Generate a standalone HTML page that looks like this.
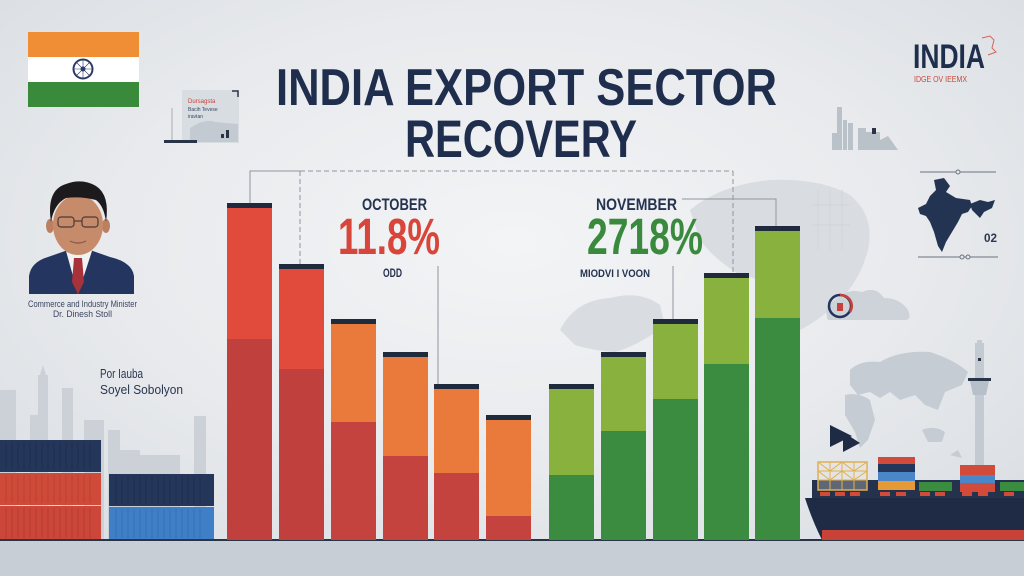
<!DOCTYPE html>
<html>
<head>
<meta charset="utf-8">
<style>
html,body{margin:0;padding:0;width:1024px;height:576px;overflow:hidden;background:#e4e7ea;}
svg{display:block;}
text{font-family:"Liberation Sans",Arial,sans-serif;}
</style>
</head>
<body>
<svg width="1024" height="576" viewBox="0 0 1024 576" xmlns="http://www.w3.org/2000/svg">
<defs>
<radialGradient id="bg" cx="0.5" cy="0.42" r="0.65">
<stop offset="0" stop-color="#f3f4f6"/>
<stop offset="0.6" stop-color="#e8eaed"/>
<stop offset="1" stop-color="#dce0e4"/>
</radialGradient>
</defs>
<rect width="1024" height="576" fill="url(#bg)"/>

<!-- faint world map behind green bars -->
<g fill="#d9dde1">
<path d="M560,330 Q575,300 610,298 Q640,290 660,305 L665,325 Q640,345 615,352 Q590,350 575,345 Z"/>
<path d="M690,210 Q720,185 770,180 Q820,178 850,195 Q875,215 868,250 Q860,280 840,300 Q820,320 800,330 L790,300 Q770,280 740,275 Q715,260 700,240 Z"/>
</g>
<g fill="none" stroke="#d0d5da" stroke-width="1">
<path d="M818,190 V250 M830,190 V250 M842,190 V250 M812,205 H850 M812,225 H850"/>
</g>

<!-- left skyline -->
<g fill="#cbd1d7">
<rect x="0" y="390" width="16" height="150"/>
<rect x="30" y="415" width="14" height="125"/>
<rect x="38" y="375" width="10" height="165"/>
<polygon points="43,365 46,375 40,375"/>
<rect x="62" y="388" width="11" height="152"/>
<rect x="84" y="420" width="20" height="120"/>
<rect x="108" y="430" width="12" height="110"/>
<rect x="120" y="450" width="20" height="90"/>
<rect x="140" y="455" width="25" height="85"/>
<rect x="165" y="455" width="15" height="85"/>
<rect x="194" y="416" width="12" height="124"/>
</g>

<!-- containers left -->
<g>
<rect x="0" y="440" width="101" height="32" fill="#24365a"/>
<rect x="0" y="473" width="101" height="32" fill="#d04a3a"/>
<rect x="0" y="506" width="101" height="34" fill="#cc4739"/>
<rect x="109" y="474" width="105" height="32" fill="#24365a"/>
<rect x="109" y="507" width="105" height="33" fill="#3f7fc8"/>
<g stroke="#000" stroke-opacity="0.12" stroke-width="1">
<path d="M6,442V470 M12,442V470 M18,442V470 M24,442V470 M30,442V470 M36,442V470 M42,442V470 M48,442V470 M54,442V470 M60,442V470 M66,442V470 M72,442V470 M78,442V470 M84,442V470 M90,442V470"/>
<path d="M6,475V503 M12,475V503 M18,475V503 M24,475V503 M30,475V503 M36,475V503 M42,475V503 M48,475V503 M54,475V503 M60,475V503 M66,475V503 M72,475V503 M78,475V503 M84,475V503 M90,475V503"/>
<path d="M6,508V538 M12,508V538 M18,508V538 M24,508V538 M30,508V538 M36,508V538 M42,508V538 M48,508V538 M54,508V538 M60,508V538 M66,508V538 M72,508V538 M78,508V538 M84,508V538 M90,508V538"/>
<path d="M116,476V504 M122,476V504 M128,476V504 M134,476V504 M140,476V504 M146,476V504 M152,476V504 M158,476V504 M164,476V504 M170,476V504 M176,476V504 M182,476V504 M188,476V504 M194,476V504 M200,476V504"/>
<path d="M116,509V538 M122,509V538 M128,509V538 M134,509V538 M140,509V538 M146,509V538 M152,509V538 M158,509V538 M164,509V538 M170,509V538 M176,509V538 M182,509V538 M188,509V538 M194,509V538 M200,509V538"/>
</g>
</g>

<!-- bottom band -->
<rect x="0" y="541" width="1024" height="35" fill="#c7ced5"/>
<rect x="0" y="539" width="1024" height="2" fill="#2a3447"/>

<!-- flag -->
<rect x="28" y="32" width="111" height="25" fill="#f08e35"/>
<rect x="28" y="57" width="111" height="25" fill="#ffffff"/>
<rect x="28" y="82" width="111" height="25" fill="#3a8a3c"/>
<circle cx="83" cy="69" r="9.5" fill="none" stroke="#2d3a6a" stroke-width="2"/>
<circle cx="83" cy="69" r="2.5" fill="#2d3a6a"/>
<g stroke="#2d3a6a" stroke-width="0.6"><path d="M74,69H92 M83,60V78 M77,63L89,75 M89,63L77,75"/></g>

<!-- small card icon -->
<rect x="182" y="90" width="57" height="53" fill="#d8dde2"/>
<path d="M190,128 Q205,118 215,122 L238,124 V142 H190 Z" fill="#c4cad1"/>
<rect x="164" y="140" width="33" height="3" fill="#2a3447"/>
<rect x="171" y="108" width="2" height="32" fill="#c7ccd2"/>
<path d="M232,91H238V97" fill="none" stroke="#2a3447" stroke-width="1.5"/>
<rect x="226" y="130" width="3" height="8" fill="#2a3447"/>
<rect x="221" y="134" width="3" height="4" fill="#2a3447"/>
<text x="188" y="103" font-size="6" fill="#c9403a">Dursagsta</text>
<text x="188" y="111" font-size="5" fill="#3a4560">Bacih Tevese</text>
<text x="188" y="118" font-size="5" fill="#3a4560">iravtan</text>

<!-- title -->
<text x="276" y="105" font-size="52" font-weight="bold" fill="#1f2e4c" textLength="501" lengthAdjust="spacingAndGlyphs">INDIA EXPORT SECTOR</text>
<text x="405" y="157" font-size="53" font-weight="bold" fill="#1f2e4c" textLength="232" lengthAdjust="spacingAndGlyphs">RECOVERY</text>

<!-- connector lines -->
<g fill="none" stroke="#8e96a0" stroke-width="1">
<path d="M250,204V171H300"/>
<path d="M300,171H733" stroke-dasharray="5,3"/>
<path d="M300,171V264" stroke-dasharray="5,3"/>
<path d="M733,171V273" stroke-dasharray="5,3"/>
<path d="M438,266V384"/>
<path d="M673,266V319"/>
<path d="M682,199H776V226"/>
</g>

<!-- bars -->
<g>
<rect x="227" y="203" width="45" height="337" fill="#e14b3b"/>
<rect x="227" y="339" width="45" height="201" fill="#c0403d"/>
<rect x="279" y="264" width="45" height="276" fill="#e14b3b"/>
<rect x="279" y="369" width="45" height="171" fill="#c0403d"/>
<rect x="331" y="319" width="45" height="221" fill="#e97a3c"/>
<rect x="331" y="422" width="45" height="118" fill="#c4433e"/>
<rect x="383" y="352" width="45" height="188" fill="#e97a3c"/>
<rect x="383" y="456" width="45" height="84" fill="#c4433e"/>
<rect x="434" y="384" width="45" height="156" fill="#e97a3c"/>
<rect x="434" y="473" width="45" height="67" fill="#c4433e"/>
<rect x="486" y="415" width="45" height="125" fill="#e97a3c"/>
<rect x="486" y="516" width="45" height="24" fill="#c4433e"/>

<rect x="549" y="384" width="45" height="156" fill="#88b13e"/>
<rect x="549" y="475" width="45" height="65" fill="#3b8b40"/>
<rect x="601" y="352" width="45" height="188" fill="#88b13e"/>
<rect x="601" y="431" width="45" height="109" fill="#3b8b40"/>
<rect x="653" y="319" width="45" height="221" fill="#88b13e"/>
<rect x="653" y="399" width="45" height="141" fill="#3b8b40"/>
<rect x="704" y="273" width="45" height="267" fill="#88b13e"/>
<rect x="704" y="364" width="45" height="176" fill="#3b8b40"/>
<rect x="755" y="226" width="45" height="314" fill="#88b13e"/>
<rect x="755" y="318" width="45" height="222" fill="#3b8b40"/>
</g>
<g fill="#1f2b3d">
<rect x="227" y="203" width="45" height="5"/>
<rect x="279" y="264" width="45" height="5"/>
<rect x="331" y="319" width="45" height="5"/>
<rect x="383" y="352" width="45" height="5"/>
<rect x="434" y="384" width="45" height="5"/>
<rect x="486" y="415" width="45" height="5"/>
<rect x="549" y="384" width="45" height="5"/>
<rect x="601" y="352" width="45" height="5"/>
<rect x="653" y="319" width="45" height="5"/>
<rect x="704" y="273" width="45" height="5"/>
<rect x="755" y="226" width="45" height="5"/>
</g>

<!-- month labels -->
<text x="362" y="210" font-size="17" font-weight="bold" fill="#253350" textLength="65" lengthAdjust="spacingAndGlyphs">OCTOBER</text>
<text x="338" y="254" font-size="51" font-weight="bold" fill="#d8453a" textLength="102" lengthAdjust="spacingAndGlyphs">11.8%</text>
<text x="383" y="277" font-size="12" font-weight="bold" fill="#253350" textLength="19" lengthAdjust="spacingAndGlyphs">ODD</text>
<text x="596" y="210" font-size="17" font-weight="bold" fill="#253350" textLength="81" lengthAdjust="spacingAndGlyphs">NOVEMBER</text>
<text x="587" y="254" font-size="51" font-weight="bold" fill="#3a8a3e" textLength="116" lengthAdjust="spacingAndGlyphs">2718%</text>
<text x="580" y="277" font-size="11" font-weight="bold" fill="#253350" textLength="70" lengthAdjust="spacingAndGlyphs">MIODVI I VOON</text>

<!-- person -->
<g>
<path d="M29,294 V276 Q31,262 48,257 L68,250 L78,262 L90,250 L110,257 Q132,262 134,276 V294 Z" fill="#24365f"/>
<path d="M66,251 L78,294 L92,251 L86,246 L78,254 L70,246 Z" fill="#f2f2f2"/>
<rect x="70" y="238" width="17" height="14" fill="#b67c5e"/>
<path d="M74,258 L82,258 L84,282 L78,294 L72,282 Z" fill="#a8323a"/>
<ellipse cx="50" cy="226" rx="4" ry="7" fill="#bb8062"/>
<ellipse cx="106" cy="226" rx="4" ry="7" fill="#bb8062"/>
<ellipse cx="78" cy="225" rx="25" ry="30" fill="#c68b6a"/>
<path d="M51,222 Q46,190 66,184 Q82,178 96,186 Q110,195 106,222 Q104,206 96,200 Q80,196 66,198 Q54,204 51,222 Z" fill="#1c1a1d"/>
<g fill="none" stroke="#4b3a36" stroke-width="1.2">
<rect x="58" y="217" width="16" height="10" rx="3"/>
<rect x="82" y="217" width="16" height="10" rx="3"/>
<path d="M74,221H82"/>
</g>
<path d="M70,241 Q78,245 86,241" fill="none" stroke="#8a5646" stroke-width="1.2"/>
</g>
<text x="28" y="307" font-size="9.5" fill="#3a4560" textLength="109" lengthAdjust="spacingAndGlyphs">Commerce and Industry Minister</text>
<text x="53" y="317" font-size="9.5" fill="#3a4560" textLength="59" lengthAdjust="spacingAndGlyphs">Dr. Dinesh Stoll</text>
<text x="100" y="378" font-size="12.5" fill="#2a3550" textLength="43" lengthAdjust="spacingAndGlyphs">Por Iauba</text>
<text x="100" y="394" font-size="12.5" fill="#2a3550" textLength="83" lengthAdjust="spacingAndGlyphs">Soyel Sobolyon</text>

<!-- right top INDIA -->
<text x="913" y="68" font-size="34" font-weight="bold" fill="#1f2e4c" textLength="72" lengthAdjust="spacingAndGlyphs">INDIA</text>
<path d="M982,38 L990,36 L994,40 L992,48 L996,52 L988,55" fill="none" stroke="#d0665e" stroke-width="1"/>
<text x="914" y="82" font-size="8" fill="#c9453a" textLength="53" lengthAdjust="spacingAndGlyphs">IDGE OV IEEMX</text>

<!-- small skyline icon -->
<g fill="#b9c1c9">
<rect x="832" y="133" width="5" height="17"/>
<rect x="837" y="107" width="5" height="43"/>
<rect x="843" y="120" width="4" height="30"/>
<rect x="848" y="123" width="5" height="27"/>
<rect x="858" y="128" width="8" height="22"/>
<rect x="866" y="132" width="14" height="18"/>
<path d="M880,140 L888,136 L898,150 H880 Z"/>
</g>
<rect x="872" y="128" width="4" height="6" fill="#2a3447"/>

<!-- India map -->
<g stroke="#6a7380" stroke-width="1" fill="none">
<path d="M920,172H996"/>
<path d="M918,257H998"/>
</g>
<circle cx="958" cy="172" r="2" fill="#e6e9ec" stroke="#6a7380"/>
<circle cx="962" cy="257" r="2" fill="#e6e9ec" stroke="#6a7380"/>
<circle cx="968" cy="257" r="2" fill="#e6e9ec" stroke="#6a7380"/>
<path d="M934,180 L944,178 L950,186 L946,192 L956,198 L970,200 L972,206 L968,212 L962,214 L958,222 L952,232 L946,242 L942,252 L938,246 L934,232 L930,222 L926,216 L920,214 L918,208 L926,204 L930,196 L936,190 Z" fill="#233452"/>
<path d="M970,204 L980,200 L988,202 L995,200 L992,208 L984,212 L980,218 L976,214 L972,210 Z" fill="#233452"/>
<text x="984" y="242" font-size="12" font-weight="bold" fill="#2a3550" textLength="13" lengthAdjust="spacingAndGlyphs">02</text>

<!-- cloud + circle icon -->
<path d="M828,320 Q822,305 836,300 Q846,288 862,292 Q876,286 884,298 Q900,298 908,310 Q912,320 905,320 Z" fill="#cdd3d9"/>
<circle cx="840" cy="306" r="11" fill="none" stroke="#23345e" stroke-width="2.5"/>
<path d="M840,295 A11,11 0 0 1 850,312" fill="none" stroke="#c9403a" stroke-width="2.5"/>
<rect x="837" y="303" width="6" height="8" fill="#c9403a"/>

<!-- world map right -->
<g fill="#c5ccd4">
<path d="M850,370 Q860,360 880,362 Q900,350 930,352 Q955,360 968,372 L962,385 L945,392 L938,410 L925,405 L915,395 L900,400 L890,392 L880,398 L870,392 L858,395 L850,385 Z"/>
<path d="M845,395 Q858,392 870,400 L875,420 L868,440 L860,448 L855,432 L845,415 Z"/>
<path d="M922,430 Q935,425 945,432 L942,442 L928,442 Z"/>
<path d="M950,455 L958,450 L962,458 Z"/>
</g>

<!-- tower -->
<rect x="975" y="343" width="9" height="122" fill="#c3cad2"/>
<rect x="977" y="340" width="5" height="6" fill="#c3cad2"/>
<rect x="968" y="378" width="23" height="3" fill="#2a3447"/>
<path d="M970,381 H989 L986,395 H973 Z" fill="#b7bfc8"/>
<rect x="978" y="358" width="3" height="3" fill="#2a3447"/>

<!-- play arrows -->
<polygon points="830,425 830,447 852,436" fill="#1f2b45"/>
<polygon points="843,432 843,452 860,443" fill="#1f2b45"/>

<!-- ship -->
<g>
<rect x="812" y="480" width="212" height="18" fill="#24324d"/>
<rect x="818" y="462" width="49" height="28" fill="#e9e3d6" fill-opacity="0.3" stroke="#e0b050" stroke-width="1.5"/>
<path d="M818,471H867 M818,480H867 M830,462V490 M842,462V490 M854,462V490 M818,462 L830,471 L842,462 L854,471 L867,462 M818,471 L830,480 L842,471 L854,480 L867,471" fill="none" stroke="#e0b050" stroke-width="1"/>
<rect x="878" y="457" width="37" height="7" fill="#d24a3a"/>
<rect x="878" y="464" width="37" height="8" fill="#24365a"/>
<rect x="878" y="472" width="37" height="9" fill="#4a86c8"/>
<rect x="878" y="481" width="37" height="9" fill="#e59a35"/>
<rect x="919" y="482" width="33" height="9" fill="#3b8b40"/>
<rect x="960" y="465" width="35" height="10" fill="#d24a3a"/>
<rect x="960" y="475" width="35" height="8" fill="#4a86c8"/>
<rect x="960" y="483" width="35" height="9" fill="#d24a3a"/>
<rect x="1000" y="482" width="24" height="9" fill="#3b8b40"/>
<path d="M805,498 H1024 V540 H822 Q812,520 805,498 Z" fill="#1f2b45"/>
<rect x="822" y="530" width="202" height="10" fill="#c94238"/>
<g fill="#d24a3a">
<rect x="820" y="492" width="10" height="4"/><rect x="835" y="492" width="10" height="4"/><rect x="850" y="492" width="10" height="4"/>
<rect x="880" y="492" width="10" height="4"/><rect x="896" y="492" width="10" height="4"/>
<rect x="920" y="492" width="10" height="4"/><rect x="935" y="492" width="10" height="4"/>
<rect x="962" y="492" width="10" height="4"/><rect x="978" y="492" width="10" height="4"/>
<rect x="1004" y="492" width="10" height="4"/>
</g>
</g>
</svg>
</body>
</html>
